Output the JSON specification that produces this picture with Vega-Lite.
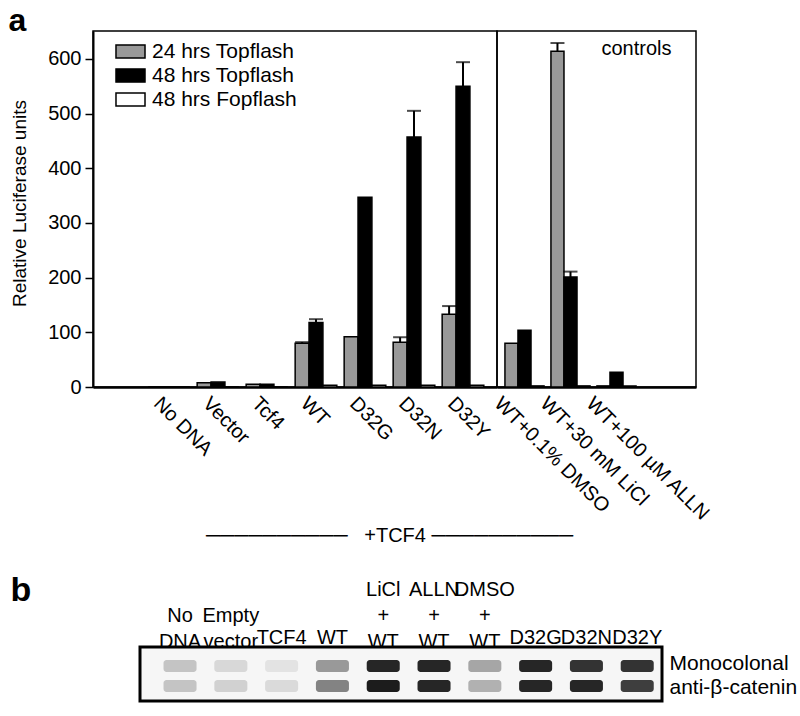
{
  "$schema": "https://vega.github.io/schema/vega-lite/v6.json",
  "padding": {"left": 8, "top": 5, "right": 5, "bottom": 5},
  "background": "white",
  "title": {"text": "a", "anchor": "start", "frame": "bounds", "fontSize": 32, "fontWeight": "bold", "offset": -8},
  "datasets": {
    "lum": [
      {"section": "main", "group": "No DNA", "series": "24 hrs Topflash", "value": 0},
      {"section": "main", "group": "No DNA", "series": "48 hrs Topflash", "value": 0},
      {"section": "main", "group": "No DNA", "series": "48 hrs Fopflash", "value": 0},
      {"section": "main", "group": "Vector", "series": "24 hrs Topflash", "value": 8},
      {"section": "main", "group": "Vector", "series": "48 hrs Topflash", "value": 9},
      {"section": "main", "group": "Vector", "series": "48 hrs Fopflash", "value": 0},
      {"section": "main", "group": "Tcf4", "series": "24 hrs Topflash", "value": 5},
      {"section": "main", "group": "Tcf4", "series": "48 hrs Topflash", "value": 5},
      {"section": "main", "group": "Tcf4", "series": "48 hrs Fopflash", "value": 0},
      {"section": "main", "group": "WT", "series": "24 hrs Topflash", "value": 80, "upper": 82},
      {"section": "main", "group": "WT", "series": "48 hrs Topflash", "value": 118, "upper": 124},
      {"section": "main", "group": "WT", "series": "48 hrs Fopflash", "value": 3},
      {"section": "main", "group": "D32G", "series": "24 hrs Topflash", "value": 92},
      {"section": "main", "group": "D32G", "series": "48 hrs Topflash", "value": 347},
      {"section": "main", "group": "D32G", "series": "48 hrs Fopflash", "value": 3},
      {"section": "main", "group": "D32N", "series": "24 hrs Topflash", "value": 82, "upper": 91},
      {"section": "main", "group": "D32N", "series": "48 hrs Topflash", "value": 457, "upper": 505},
      {"section": "main", "group": "D32N", "series": "48 hrs Fopflash", "value": 3},
      {"section": "main", "group": "D32Y", "series": "24 hrs Topflash", "value": 133, "upper": 148},
      {"section": "main", "group": "D32Y", "series": "48 hrs Topflash", "value": 550, "upper": 594},
      {"section": "main", "group": "D32Y", "series": "48 hrs Fopflash", "value": 3},
      {"section": "controls", "group": "WT+0.1% DMSO", "series": "24 hrs Topflash", "value": 80},
      {"section": "controls", "group": "WT+0.1% DMSO", "series": "48 hrs Topflash", "value": 104},
      {"section": "controls", "group": "WT+0.1% DMSO", "series": "48 hrs Fopflash", "value": 2},
      {"section": "controls", "group": "WT+30 mM LiCl", "series": "24 hrs Topflash", "value": 614, "upper": 629},
      {"section": "controls", "group": "WT+30 mM LiCl", "series": "48 hrs Topflash", "value": 201, "upper": 211},
      {"section": "controls", "group": "WT+30 mM LiCl", "series": "48 hrs Fopflash", "value": 2},
      {"section": "controls", "group": "WT+100 µM ALLN", "series": "24 hrs Topflash", "value": 2},
      {"section": "controls", "group": "WT+100 µM ALLN", "series": "48 hrs Topflash", "value": 27},
      {"section": "controls", "group": "WT+100 µM ALLN", "series": "48 hrs Fopflash", "value": 2}
    ],
    "blot": [
      {"lane": "No DNA", "band": "upper", "intensity": 0.22},
      {"lane": "No DNA", "band": "lower", "intensity": 0.22},
      {"lane": "Empty vector", "band": "upper", "intensity": 0.13},
      {"lane": "Empty vector", "band": "lower", "intensity": 0.16},
      {"lane": "TCF4", "band": "upper", "intensity": 0.08},
      {"lane": "TCF4", "band": "lower", "intensity": 0.12},
      {"lane": "WT", "band": "upper", "intensity": 0.4},
      {"lane": "WT", "band": "lower", "intensity": 0.5},
      {"lane": "LiCl + WT", "band": "upper", "intensity": 0.9},
      {"lane": "LiCl + WT", "band": "lower", "intensity": 0.95},
      {"lane": "ALLN + WT", "band": "upper", "intensity": 0.9},
      {"lane": "ALLN + WT", "band": "lower", "intensity": 0.9},
      {"lane": "DMSO + WT", "band": "upper", "intensity": 0.35},
      {"lane": "DMSO + WT", "band": "lower", "intensity": 0.3},
      {"lane": "D32G", "band": "upper", "intensity": 0.9},
      {"lane": "D32G", "band": "lower", "intensity": 0.9},
      {"lane": "D32N", "band": "upper", "intensity": 0.85},
      {"lane": "D32N", "band": "lower", "intensity": 0.9},
      {"lane": "D32Y", "band": "upper", "intensity": 0.85},
      {"lane": "D32Y", "band": "lower", "intensity": 0.8}
    ]
  },
  "concat": [
    {
      "hconcat": [
        {
          "width": 404,
          "height": 356,
          "data": {"name": "lum"},
          "transform": [{"filter": "datum.section == 'main'"}],
          "encoding": {
            "x": {
              "field": "group", "type": "nominal",
              "scale": {"domain": ["No DNA", "Vector", "Tcf4", "WT", "D32G", "D32N", "D32Y"], "paddingInner": 0.15, "paddingOuter": 0.6975, "align": 0.807},
              "axis": {"title": null, "labelAngle": 45, "labelAlign": "left", "labelBaseline": "top", "labelFontSize": 20, "ticks": false, "domainWidth": 2.5, "labelPadding": 6, "labelOverlap": false, "labelBound": false, "labelOffset": -5}
            },
            "xOffset": {"field": "series", "type": "nominal", "scale": {"domain": ["24 hrs Topflash", "48 hrs Topflash", "48 hrs Fopflash"], "paddingInner": 0, "paddingOuter": 0}}
          },
          "layer": [
            {
              "mark": {"type": "bar", "stroke": "black", "strokeWidth": 1.5},
              "encoding": {
                "y": {
                  "field": "value", "type": "quantitative", "title": "Relative Luciferase units",
                  "scale": {"domain": [0, 651], "nice": false},
                  "axis": {"values": [0, 100, 200, 300, 400, 500, 600], "titleFontSize": 19, "labelFontSize": 20, "tickSize": 8, "tickWidth": 1.5, "domainWidth": 2, "labelPadding": 4, "titlePadding": 18, "titleY": 172}
                },
                "color": {
                  "field": "series", "type": "nominal",
                  "scale": {"domain": ["24 hrs Topflash", "48 hrs Topflash", "48 hrs Fopflash"], "range": ["#999999", "#000000", "#ffffff"]},
                  "legend": {"orient": "none", "legendX": 27, "legendY": 10, "title": null, "symbolType": "M-2.2,-1H2.2V1H-2.2Z", "symbolSize": 174, "symbolStrokeColor": "black", "symbolStrokeWidth": 1.5, "symbolOpacity": 1, "labelFontSize": 21, "labelOffset": 11, "rowPadding": 2}
                }
              }
            },
            {
              "transform": [{"filter": "isValid(datum.upper)"}],
              "mark": {"type": "rule", "color": "black", "strokeWidth": 2},
              "encoding": {
                "y": {"field": "value", "type": "quantitative", "title": "Relative Luciferase units"},
                "y2": {"field": "upper"}
              }
            },
            {
              "transform": [{"filter": "isValid(datum.upper)"}],
              "mark": {"type": "tick", "color": "black", "thickness": 2, "size": 14},
              "encoding": {
                "y": {"field": "upper", "type": "quantitative", "title": "Relative Luciferase units"}
              }
            }
          ]
        },
        {
          "width": 199,
          "height": 356,
          "data": {"name": "lum"},
          "transform": [{"filter": "datum.section == 'controls'"}],
          "encoding": {
            "x": {
              "field": "group", "type": "nominal",
              "scale": {"domain": ["WT+0.1% DMSO", "WT+30 mM LiCl", "WT+100 µM ALLN"], "paddingInner": 0.15, "paddingOuter": 0.738, "align": 0.117},
              "axis": {"title": null, "labelAngle": 45, "labelAlign": "left", "labelBaseline": "top", "labelFontSize": 20, "ticks": false, "domainWidth": 2.5, "labelPadding": 6, "labelOverlap": false, "labelBound": false, "labelOffset": -20}
            },
            "xOffset": {"field": "series", "type": "nominal", "scale": {"domain": ["24 hrs Topflash", "48 hrs Topflash", "48 hrs Fopflash"], "paddingInner": 0, "paddingOuter": 0}}
          },
          "layer": [
            {
              "mark": {"type": "bar", "stroke": "black", "strokeWidth": 1.5},
              "encoding": {
                "y": {"field": "value", "type": "quantitative", "scale": {"domain": [0, 651], "nice": false}, "axis": null},
                "color": {
                  "field": "series", "type": "nominal",
                  "scale": {"domain": ["24 hrs Topflash", "48 hrs Topflash", "48 hrs Fopflash"], "range": ["#999999", "#000000", "#ffffff"]},
                  "legend": null
                }
              }
            },
            {
              "transform": [{"filter": "isValid(datum.upper)"}],
              "mark": {"type": "rule", "color": "black", "strokeWidth": 2},
              "encoding": {
                "y": {"field": "value", "type": "quantitative", "axis": null},
                "y2": {"field": "upper"}
              }
            },
            {
              "transform": [{"filter": "isValid(datum.upper)"}],
              "mark": {"type": "tick", "color": "black", "thickness": 2, "size": 14},
              "encoding": {
                "y": {"field": "upper", "type": "quantitative", "axis": null}
              }
            },
            {
              "data": {"values": [{"label": "controls", "group": "WT+100 µM ALLN", "y": 618}]},
              "transform": [],
              "mark": {"type": "text", "fontSize": 20, "align": "center", "baseline": "middle", "dx": 20, "color": "black"},
              "encoding": {
                "x": {"field": "group", "type": "nominal"},
                "xOffset": null,
                "y": {"field": "y", "type": "quantitative", "axis": null},
                "text": {"field": "label"}
              }
            }
          ]
        }
      ],
      "spacing": 0,
      "bounds": "flush",
      "resolve": {"scale": {"x": "independent", "xOffset": "independent", "color": "independent"}, "legend": {"color": "independent"}},
      "title": {"text": "──────────\u00a0\u00a0\u00a0+TCF4\u00a0──────────", "orient": "bottom", "anchor": "start", "frame": "bounds", "dx": 196, "fontSize": 20, "fontWeight": "normal", "offset": 1}
    },
    {
      "hconcat": [
        {
          "width": 47,
          "height": 54,
          "data": {"values": [{"v": 0}]},
          "mark": {"type": "point", "opacity": 0},
          "view": {"stroke": null, "fill": null}
        },
        {
          "width": 522,
          "height": 54,
          "data": {"name": "blot"},
          "view": {"stroke": "black", "strokeWidth": 3, "fill": "#f6f6f6"},
          "mark": {"type": "rect", "color": "#101010", "cornerRadius": 3},
          "encoding": {
            "x": {
              "field": "lane", "type": "nominal",
              "scale": {"domain": ["No DNA", "Empty vector", "TCF4", "WT", "LiCl + WT", "ALLN + WT", "DMSO + WT", "D32G", "D32N", "D32Y"], "paddingInner": 0.35, "paddingOuter": 0.313, "align": 0.74},
              "axis": {"orient": "top", "title": "b", "titleX": -130, "titleY": -47, "titleAlign": "left", "titleBaseline": "alphabetic", "titleAngle": 0, "titleFontSize": 34, "titleFontWeight": "bold", "labelExpr": "length(split(datum.label, ' ')) == 3 ? split(datum.label, ' ') : (length(split(datum.label, ' ')) == 2 ? ['\u00a0', split(datum.label, ' ')[0], split(datum.label, ' ')[1]] : datum.label)", "labelAngle": 0, "labelFontSize": 20, "labelLineHeight": 26, "labelBaseline": "bottom", "labelPadding": {"condition": {"test": "indexof(datum.label, ' ') < 0", "value": 0}, "value": 48}, "ticks": false, "domain": false, "labelOverlap": false, "labelBound": false}
            },
            "y": {
              "field": "band", "type": "nominal",
              "scale": {"domain": ["upper", "lower"], "paddingInner": 0.4, "paddingOuter": 0.55, "align": 0.59},
              "axis": {"orient": "right", "title": null, "labelExpr": "datum.value == 'upper' ? 'Monocolonal' : 'anti-β-catenin'", "labelFontSize": 21, "ticks": false, "domain": false, "labelPadding": 7, "labelOffset": {"condition": {"test": "datum.value == 'upper'", "value": -2}, "value": 2}}
            },
            "opacity": {"field": "intensity", "type": "quantitative", "scale": {"domain": [0, 1], "range": [0, 1]}, "legend": null}
          }
        }
      ],
      "spacing": 0,
      "bounds": "flush"
    }
  ],
  "columns": 1,
  "spacing": 25,
  "config": {
    "font": "Liberation Sans",
    "view": {"stroke": "black", "strokeWidth": 1.5},
    "axis": {"labelColor": "black", "titleColor": "black", "domainColor": "black", "tickColor": "black", "grid": false, "labelFont": "Liberation Sans", "titleFont": "Liberation Sans", "titleFontWeight": "normal"},
    "legend": {"labelFont": "Liberation Sans", "labelColor": "black"},
    "title": {"font": "Liberation Sans", "color": "black"}
  }
}
